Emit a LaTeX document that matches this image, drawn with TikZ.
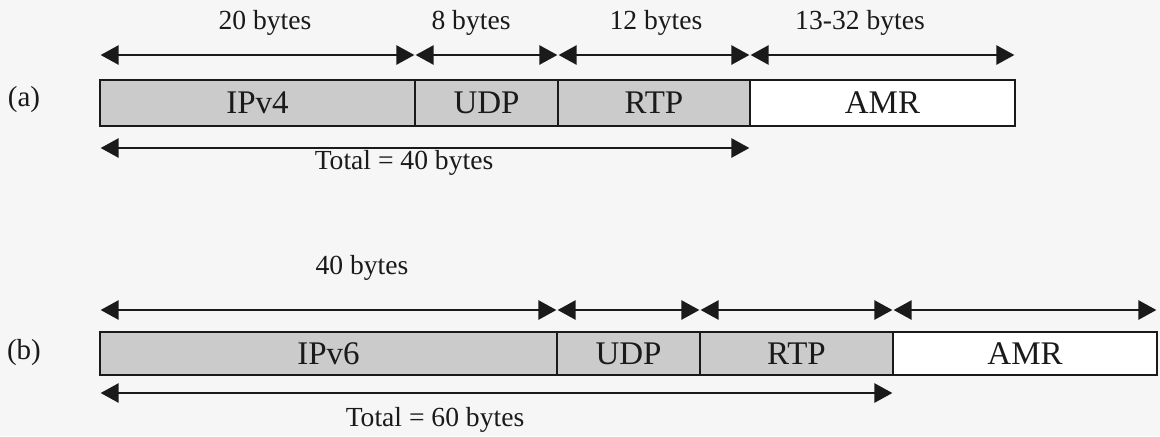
\documentclass[tikz,border=0pt]{standalone}
\usepackage{fontspec}
\setmainfont{Liberation Serif}
\usetikzlibrary{arrows.meta}
\definecolor{ink}{HTML}{1A1A1A}
\definecolor{hdrfill}{HTML}{CBCBCB}
\definecolor{paper}{HTML}{F6F6F6}
\begin{document}
\begin{tikzpicture}[x=0.5pt,y=-0.5pt,
  cell/.style={draw=ink, line width=1.2pt, inner sep=0pt, outer sep=0pt,
    font=\fontsize{16.5}{19}\selectfont, text=ink},
  hdr/.style={cell, fill=hdrfill},
  payload/.style={cell, fill=white},
  dim/.style={draw=ink, line width=1.3pt,
    {Triangle[length=9pt,width=9.5pt]}-{Triangle[length=9pt,width=9.5pt]},
    shorten <=0.3pt, shorten >=0.3pt},
  lbl/.style={font=\fontsize{13.8}{16}\selectfont, text=ink, inner sep=0pt},
  tag/.style={font=\fontsize{14.5}{16}\selectfont, text=ink, inner sep=0pt}]
\fill[paper] (0,0) rectangle (1160,436);
\useasboundingbox (0,0) rectangle (1160,436);

% ---- (a) IPv4 / UDP / RTP / AMR packet ----
\node[tag] (taga) at (24,100) {(a)};
\node[hdr, minimum width=157.5pt, minimum height=23pt] (ipv4) at (257.5,103) {IPv4};
\node[hdr, minimum width=71.5pt, minimum height=23pt] (udpa) at (486.5,103) {UDP};
\node[hdr, minimum width=96pt, minimum height=23pt] (rtpa) at (654,103) {RTP};
\node[payload, minimum width=132.5pt, minimum height=23pt] (amra) at (882.5,103) {AMR};

\coordinate (ya) at (0,55);
\coordinate (ta) at (0,148);
\node[lbl] (la1) at (265,23) {20 bytes};
\node[lbl] (la2) at (471,23) {8 bytes};
\node[lbl] (la3) at (656,23) {12 bytes};
\node[lbl] (la4) at (860,23) {13-32 bytes};
\draw[dim] (ipv4.west |- ya) -- (ipv4.east |- ya);
\draw[dim] (udpa.west |- ya) -- (udpa.east |- ya);
\draw[dim] (rtpa.west |- ya) -- (rtpa.east |- ya);
\draw[dim] (amra.west |- ya) -- (amra.east |- ya);
\draw[dim] (ipv4.west |- ta) -- (rtpa.east |- ta);
\node[lbl] (tota) at (404,163) {Total = 40 bytes};

% ---- (b) IPv6 / UDP / RTP / AMR packet ----
\node[tag] (tagb) at (24,353) {(b)};
\node[hdr, minimum width=228.5pt, minimum height=21.5pt] (ipv6) at (328.5,353.5) {IPv6};
\node[hdr, minimum width=71.5pt, minimum height=21.5pt] (udpb) at (628.5,353.5) {UDP};
\node[hdr, minimum width=96.5pt, minimum height=21.5pt] (rtpb) at (796.5,353.5) {RTP};
\node[payload, minimum width=132pt, minimum height=21.5pt] (amrb) at (1025,353.5) {AMR};

\coordinate (yb) at (0,310);
\coordinate (tb) at (0,393);
\node[lbl] (lb1) at (362,268) {40 bytes};
\draw[dim] (ipv6.west |- yb) -- (ipv6.east |- yb);
\draw[dim] (udpb.west |- yb) -- (udpb.east |- yb);
\draw[dim] (rtpb.west |- yb) -- (rtpb.east |- yb);
\draw[dim] (amrb.west |- yb) -- (amrb.east |- yb);
\draw[dim] (ipv6.west |- tb) -- (rtpb.east |- tb);
\node[lbl] (totb) at (435,420) {Total = 60 bytes};
\end{tikzpicture}
\end{document}
